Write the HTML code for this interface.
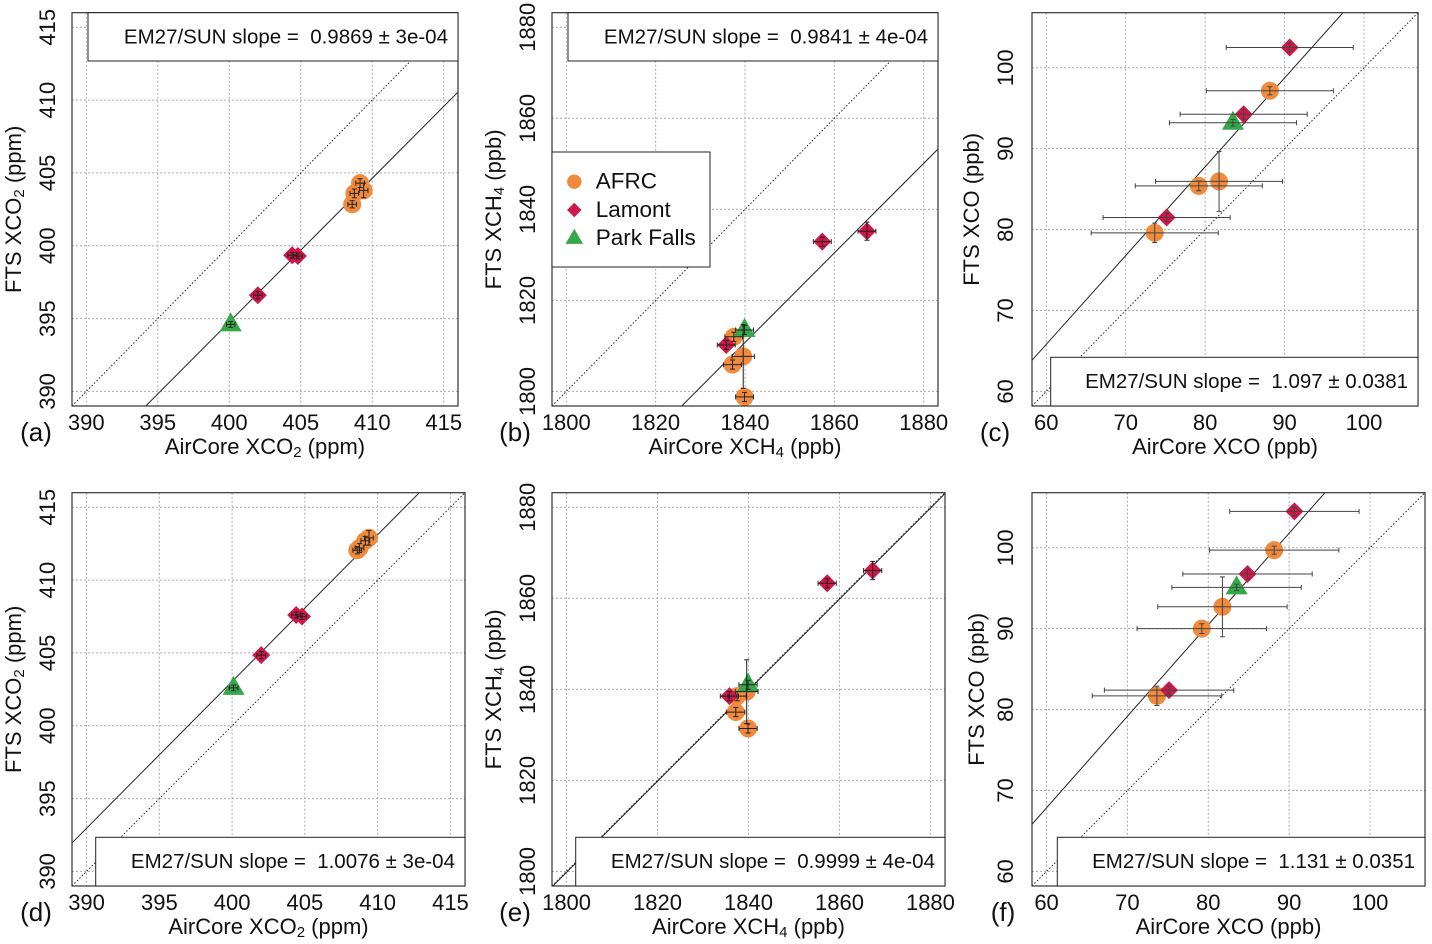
<!DOCTYPE html>
<html><head><meta charset="utf-8"><style>
html,body{margin:0;padding:0;background:#fff;}
svg{display:block;font-family:"Liberation Sans",Arial,sans-serif;}
</style></head><body>
<svg id="fig" width="1432" height="944" viewBox="0 0 1432 944" xmlns="http://www.w3.org/2000/svg">
<rect x="0" y="0" width="1432" height="944" fill="#fff"/>
</svg>
<script>
// ---- data arrays ----
const sites = ["AFRC","AFRC","AFRC","AFRC","Lamont","Lamont","Lamont","Park Falls"];
const co2AirCore = [409.15,408.75,408.6,409.4,402.0,404.4,404.8,400.1];
const co2FtsA = [404.3,403.6,402.85,403.8,396.6,399.35,399.3,394.6];
const co2FtsD = [412.7,412.2,412.05,412.9,404.85,407.6,407.5,402.6];
const co2XErr = [0.3,0.3,0.3,0.3,0.3,0.3,0.3,0.3];
const co2YErr = [0.3,0.3,0.25,0.5,0.25,0.2,0.2,0.2];
const ch4AirCore = [1837.5,1839.6,1837.2,1839.9,1857.3,1867.3,1835.8,1839.9];
const ch4FtsB = [1812.0,1807.7,1805.9,1798.8,1832.9,1835.2,1810.2,1813.5];
const ch4FtsE = [1838.5,1839.5,1835.0,1831.4,1863.3,1866.1,1838.5,1841.0];
const ch4XErr = [2,2.5,2,2,2,2,2,2];
const ch4YErr = [1,7,1,1,1,2,1,1];
const coAirCore = [88.15,79.2,81.75,73.65,90.65,84.85,75.15,83.5];
const coFtsC = [97.15,85.4,85.95,79.6,102.5,94.25,81.5,93.2];
const coFtsF = [99.7,90.0,92.7,81.7,104.5,96.75,82.4,95.1];
const coXErr = [8,8,8,8,8,8,8,8];
const coYErr = [0.5,0.6,3.7,1.2,0.5,0.6,0.5,0.4];
const co2Ticks = [390,395,400,405,410,415];
const ch4Ticks = [1800,1820,1840,1860,1880];
const coTicks = [60,70,80,90,100];
const slopes = [0.9869,0.9841,1.097,1.0076,0.9999,1.131];
const slopeLabels = ["0.9869 ± 3e-04","0.9841 ± 4e-04","1.097 ± 0.0381","1.0076 ± 3e-04","0.9999 ± 4e-04","1.131 ± 0.0351"];
const legendSites = ["AFRC","Lamont","Park Falls"];

const NS="http://www.w3.org/2000/svg";
const svg=document.getElementById('fig');
const colors={"AFRC":"#f08a3c","Lamont":"#cf1749","Park Falls":"#35a84a"};
function mk(tag,attrs,parent){const e=document.createElementNS(NS,tag);for(const k in attrs)e.setAttribute(k,attrs[k]);(parent||svg).appendChild(e);return e;}

function marker(g,site,cx,cy,k){
  k=k||1;
  let m;
  if(site==="AFRC"){m=mk('circle',{cx:cx,cy:cy,r:9*k,fill:colors[site]},g);}
  else if(site==="Lamont"){const s=9*k;m=mk('polygon',{points:`${cx},${cy-s} ${cx+s},${cy} ${cx},${cy+s} ${cx-s},${cy}`,fill:colors[site]},g);}
  else {m=mk('polygon',{points:`${cx},${cy-12*k} ${cx+11*k},${cy+7*k} ${cx-11*k},${cy+7*k}`,fill:colors[site]},g);}
  return m;
}

function titleText(g,x,y,parts,rot,name){
  const t=mk('text',{x:x,y:y,'text-anchor':'middle','font-size':22,fill:'#111','dominant-baseline':'middle'},g);
  if(rot)t.setAttribute('transform',`rotate(-90 ${x} ${y})`);
  
  
  parts.forEach(p=>{const s=mk('tspan',{},t);s.textContent=p[0];if(p[2])s.setAttribute('font-size',15);if(p[1])s.setAttribute('dy',p[1]);});
  return t;
}

function panel(cfg){
  const g=mk('g',{});
  
  
  const [L,R,T,B]=cfg.box;
  const [d0,d1]=cfg.dom;
  const sx=v=>L+(v-d0)/(d1-d0)*(R-L);
  const sy=v=>B-(v-d0)/(d1-d0)*(B-T);
  const clip=mk('clipPath',{id:'clip'+cfg.id},g);
  mk('rect',{x:L,y:T,width:R-L,height:B-T},clip);
  cfg.ticks.forEach(v=>{
    const gx=mk('line',{x1:sx(v),x2:sx(v),y1:T,y2:B,stroke:'#aaa','stroke-width':1,'stroke-dasharray':'2,2'},g);
    
    
    const gy=mk('line',{x1:L,x2:R,y1:sy(v),y2:sy(v),stroke:'#aaa','stroke-width':1,'stroke-dasharray':'2,2'},g);
    
    
    const tx=mk('text',{x:sx(v),y:cfg.xTickY,'text-anchor':'middle','dominant-baseline':'middle','font-size':22,fill:'#111'},g);
    tx.textContent=v;
    
    
    const ty=mk('text',{x:cfg.yTickX,y:sy(v),'text-anchor':'middle','dominant-baseline':'middle','font-size':22,fill:'#111',transform:`rotate(-90 ${cfg.yTickX} ${sy(v)})`},g);
    ty.textContent=v;
    
    
  });
  const cg=mk('g',{'clip-path':`url(#clip${cfg.id})`},g);
  const one=mk('line',{x1:sx(d0),y1:sy(d0),x2:sx(d1),y2:sy(d1),stroke:'#222','stroke-width':1,'stroke-dasharray':'1.5,2'},cg);
  
  
  const fit=mk('line',{x1:sx(d0),y1:sy(d0*cfg.slope),x2:sx(d1),y2:sy(d1*cfg.slope),stroke:'#222','stroke-width':1},cg);
  
  
  cfg.x.forEach((xv,i)=>{
    const m=marker(cg,sites[i],sx(xv),sy(cfg.y[i]));
    
    
  });
  cfg.x.forEach((xv,i)=>{
    const cx=sx(xv),cy=sy(cfg.y[i]);
    const x0=sx(xv-cfg.xe[i]),x1=sx(xv+cfg.xe[i]);
    const y0=sy(cfg.y[i]-cfg.ye[i]),y1=sy(cfg.y[i]+cfg.ye[i]);
    const col=cfg.errCol||'#222';
    const p=mk('path',{d:`M${x0},${cy}H${x1}M${x0},${cy-2.5}V${cy+2.5}M${x1},${cy-2.5}V${cy+2.5}M${cx},${y0}V${y1}M${cx-2.5},${y0}H${cx+2.5}M${cx-2.5},${y1}H${cx+2.5}`,stroke:col,'stroke-width':1,fill:'none'},cg);
    
    
  });
  const box=mk('rect',{x:L,y:T,width:R-L,height:B-T,fill:'none',stroke:'#333','stroke-width':1.2},g);
  
  
  const [sL,sT,sR,sB]=cfg.sbox;
  const sb=mk('rect',{x:sL,y:sT,width:sR-sL,height:sB-sT,fill:'#fff',stroke:'#222','stroke-width':1},g);
  
  
  const st=mk('text',{x:sR-10,y:(sT+sB)/2+1,'text-anchor':'end','dominant-baseline':'middle','font-size':20.5,fill:'#111',style:'white-space:pre'},g);
  st.textContent='EM27/SUN slope =  '+cfg.slopeLabel;
  
  
  titleText(g,(L+R)/2,cfg.xTitleY,cfg.xTitle,false,'x-axis-title');
  titleText(g,cfg.yTitleX,(T+B)/2,cfg.yTitle,true,'y-axis-title');
  const pl=mk('text',{x:cfg.labX,y:cfg.labY,'text-anchor':'middle','dominant-baseline':'middle','font-size':26,fill:'#111'},g);
  pl.textContent='('+cfg.id+')';
  
  
}

const topY=[12.7,406], botY=[492.7,886];
const tCO2x=[['AirCore XCO'],['2',5,true],[' (ppm)',-5]], tCO2y=[['FTS XCO'],['2',5,true],[' (ppm)',-5]];
const tCH4x=[['AirCore XCH'],['4',5,true],[' (ppb)',-5]], tCH4y=[['FTS XCH'],['4',5,true],[' (ppb)',-5]];
panel({id:'a',box:[72,458,...topY],dom:[389,416],ticks:co2Ticks,x:co2AirCore,y:co2FtsA,xe:co2XErr,ye:co2YErr,slope:slopes[0],slopeLabel:slopeLabels[0],sbox:[88,12.7,458,61],xTickY:424,yTickX:49,yTitleX:15,xTitle:tCO2x,yTitle:tCO2y,xTitleY:448,labX:36,labY:434});
panel({id:'b',box:[552,938,...topY],dom:[1796.8,1883.2],ticks:ch4Ticks,x:ch4AirCore,y:ch4FtsB,xe:ch4XErr,ye:ch4YErr,slope:slopes[1],slopeLabel:slopeLabels[1],sbox:[568,12.7,938,61],xTickY:424,yTickX:529,yTitleX:495,xTitle:tCH4x,yTitle:tCH4y,xTitleY:448,labX:515,labY:434});
panel({id:'c',box:[1032,1418,...topY],dom:[58.2,106.8],ticks:coTicks,x:coAirCore,y:coFtsC,xe:coXErr,ye:coYErr,errCol:'#444',slope:slopes[2],slopeLabel:slopeLabels[2],sbox:[1050.7,357.3,1418,406],xTickY:424,yTickX:1007,yTitleX:973,xTitle:[['AirCore XCO (ppb)']],yTitle:[['FTS XCO (ppb)']],xTitleY:448,labX:995,labY:434});
panel({id:'d',box:[72,465,...botY],dom:[389,416],ticks:co2Ticks,x:co2AirCore,y:co2FtsD,xe:co2XErr,ye:co2YErr,slope:slopes[3],slopeLabel:slopeLabels[3],sbox:[95.7,837.3,465,886],xTickY:904,yTickX:49,yTitleX:15,xTitle:tCO2x,yTitle:tCO2y,xTitleY:928,labX:36,labY:914});
panel({id:'e',box:[552,945,...botY],dom:[1796.8,1883.2],ticks:ch4Ticks,x:ch4AirCore,y:ch4FtsE,xe:ch4XErr,ye:ch4YErr,slope:slopes[4],slopeLabel:slopeLabels[4],sbox:[575.7,837.3,945,886],xTickY:904,yTickX:529,yTitleX:495,xTitle:tCH4x,yTitle:tCH4y,xTitleY:928,labX:515,labY:914});
panel({id:'f',box:[1032,1425,...botY],dom:[58.2,106.8],ticks:coTicks,x:coAirCore,y:coFtsF,xe:coXErr,ye:coYErr,errCol:'#444',slope:slopes[5],slopeLabel:slopeLabels[5],sbox:[1057.3,837.3,1425,886],xTickY:904,yTickX:1007,yTitleX:978,xTitle:[['AirCore XCO (ppb)']],yTitle:[['FTS XCO (ppb)']],xTitleY:928,labX:1003,labY:914});

const lg=mk('g',{});


mk('rect',{x:552,y:152,width:158,height:115,fill:'#fff',stroke:'#222','stroke-width':1},lg);
legendSites.forEach((s,i)=>{
  const yy=181.7+i*28.3;
  const m=marker(lg,s,574.3,yy,0.8);
  
  
  const t=mk('text',{x:595.7,y:yy+1,'dominant-baseline':'middle','font-size':22.5,fill:'#111'},lg);
  t.textContent=s;
  
  
});
</script>
</body></html>
